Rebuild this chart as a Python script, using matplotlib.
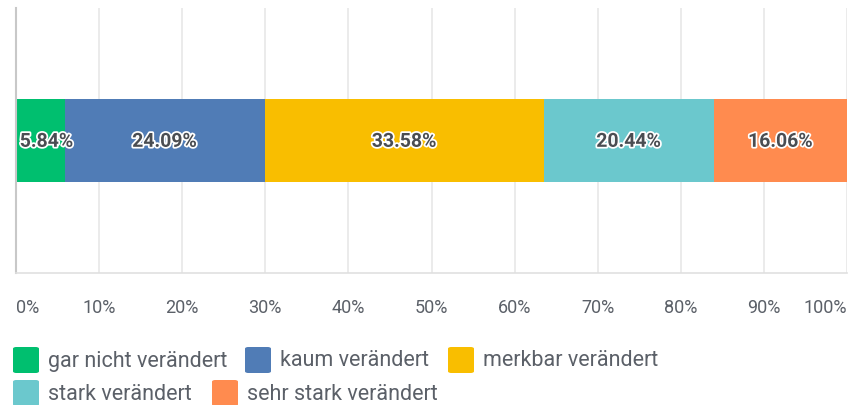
import matplotlib
matplotlib.use("Agg")
import matplotlib.pyplot as plt
import matplotlib.patheffects as pe
from matplotlib.patches import FancyBboxPatch

categories = ["gar nicht verändert", "kaum verändert", "merkbar verändert",
              "stark verändert", "sehr stark verändert"]
values = [5.84, 24.09, 33.58, 20.44, 16.06]
colors = ["#00BF6F", "#507CB6", "#F9BE00", "#6BC8CD", "#FF8B4F"]
tick_values = [0, 10, 20, 30, 40, 50, 60, 70, 80, 90, 100]
tick_labels = ["0%", "10%", "20%", "30%", "40%", "50%", "60%", "70%", "80%", "90%", "100%"]

W, H = 849, 405
fig = plt.figure(figsize=(W / 100, H / 100), dpi=100)
ax = fig.add_axes([16 / W, 1 - 273 / H, (847 - 16) / W, (273 - 8) / H])

ax.set_xlim(0, 100)
ax.set_ylim(-0.5, 0.5)
for t in tick_values[1:]:
    ax.axvline(t, color="#e8e8e8", lw=1.2, zorder=0)

text_color = "#5b6068"
left = 0
for v, c in zip(values, colors):
    ax.barh(0, v, left=left, height=83 / 265, color=c, zorder=2)
    lab = f"{v:.2f}%"
    if v < 8:
        x, ha = left + 0.45, "left"
    else:
        x, ha = left + v / 2, "center"
    ax.text(x, -0.005, lab, ha=ha, va="center", fontsize=14, fontweight="bold",
            color="#4a4d52", family="Roboto", zorder=3,
            path_effects=[pe.withStroke(linewidth=2.5, foreground="white")])
    left += v

for s in ["top", "right"]:
    ax.spines[s].set_visible(False)
ax.spines["left"].set_color("#c8c8c8")
ax.spines["left"].set_linewidth(1.5)
ax.spines["bottom"].set_color("#e0e0e0")
ax.spines["bottom"].set_linewidth(1.2)
ax.set_yticks([])
ax.set_xticks(tick_values)
ax.set_xticklabels(tick_labels, family="Roboto", fontsize=13, color=text_color)
ax.tick_params(axis="x", length=0, pad=19)
labs = ax.get_xticklabels()
labs[0].set_ha("left")
labs[-1].set_ha("right")

# legend
legend_pos = [(13, 360), (245, 360), (448, 360), (13, 393), (212, 393)]
for (px, py), c, name in zip(legend_pos, colors, categories):
    patch = FancyBboxPatch((px / W, 1 - (py + 13) / H), 26 / W, 26 / H,
                           boxstyle="round,pad=0,rounding_size=0.004",
                           transform=fig.transFigure, facecolor=c, edgecolor="none")
    fig.patches.append(patch)
    fig.text((px + 35) / W, 1 - (py + 1) / H, name, ha="left", va="center",
             family="Roboto", fontsize=15.5, color=text_color)

fig.savefig("out.png", dpi=100)
